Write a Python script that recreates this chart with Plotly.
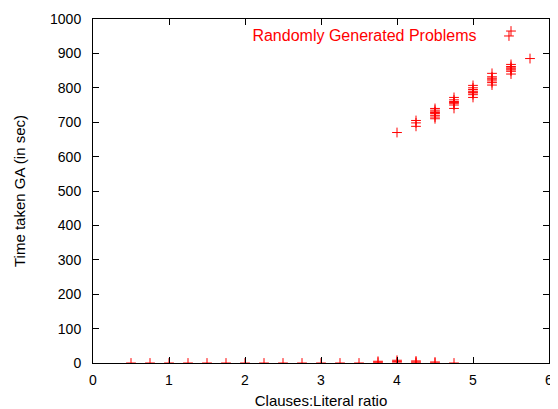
import plotly.graph_objects as go

# Clauses:Literal ratio values and measured GA time (sec)
ratio = [0.5, 0.75, 1.0, 1.25, 1.5, 1.75, 2.0, 2.25, 2.5, 2.75, 3.0, 3.25, 3.5,
         3.75, 3.75, 4.0, 4.0, 4.0, 4.25, 4.25, 4.25, 4.5, 4.5, 4.75,
         4.0,
         4.25, 4.25, 4.25,
         4.5, 4.5, 4.5, 4.5, 4.5, 4.5, 4.5, 4.5,
         4.75, 4.75, 4.75, 4.75, 4.75, 4.75, 4.75,
         5.0, 5.0, 5.0, 5.0, 5.0, 5.0, 5.0, 5.0,
         5.25, 5.25, 5.25, 5.25, 5.25, 5.25, 5.25,
         5.5, 5.5, 5.5, 5.5, 5.5, 5.5, 5.5,
         5.75, 5.5]
time_sec = [0, 0, 0, 0, 0, 0, 0, 0, 0, 0, 0, 0, 0,
            5, 2, 0, 4, 8, 0, 3, 6, 0, 3, 0,
            670,
            705, 698, 688,
            740, 735, 730, 728, 725, 720, 715, 710,
            772, 765, 760, 757, 755, 750, 740,
            807, 800, 795, 790, 787, 785, 780, 772,
            842, 832, 828, 825, 820, 815, 808,
            868, 862, 858, 855, 852, 848, 840,
            885, 965]

x_ticks = [0, 1, 2, 3, 4, 5, 6]
y_ticks = [0, 100, 200, 300, 400, 500, 600, 700, 800, 900, 1000]

FAM = "Liberation Sans, Arial, sans-serif"

fig = go.Figure()
fig.add_trace(go.Scatter(
    x=ratio, y=time_sec, mode="markers", name="",
    marker=dict(symbol="cross-thin", size=7, color="red",
                line=dict(width=1, color="red")),
    showlegend=True,
))

tick_font = dict(family=FAM, size=14, color="black")
title_font = dict(family=FAM, size=15, color="black")
axis_common = dict(showline=True, linecolor="black", linewidth=1, mirror="ticks",
                   ticks="inside", ticklen=6, tickcolor="black", tickwidth=1,
                   showgrid=False, zeroline=False, tickfont=tick_font,
                   automargin=False, ticklabeloverflow="allow")

fig.update_layout(
    width=550, height=401,
    margin=dict(l=85, r=9, t=11, b=46, autoexpand=False),
    plot_bgcolor="white", paper_bgcolor="white",
    font=tick_font,
    xaxis=dict(range=[0, 6], tickvals=x_ticks, ticklabelstandoff=4,
               title=dict(text="Clauses:Literal ratio", font=title_font, standoff=14),
               **axis_common),
    yaxis=dict(range=[0, 1000], tickvals=y_ticks, ticklabelstandoff=8,
               title=dict(text="Time taken GA (in sec)", font=title_font, standoff=20),
               **axis_common),
    legend=dict(x=0.968, y=0.996, xanchor="right", yanchor="top",
                bgcolor="rgba(0,0,0,0)",
                title=dict(text="Randomly Generated Problems\u00a0", side="left",
                           font=dict(family=FAM, size=16, color="red")),
                font=tick_font),
    showlegend=True,
)

fig.write_html("out.html")
